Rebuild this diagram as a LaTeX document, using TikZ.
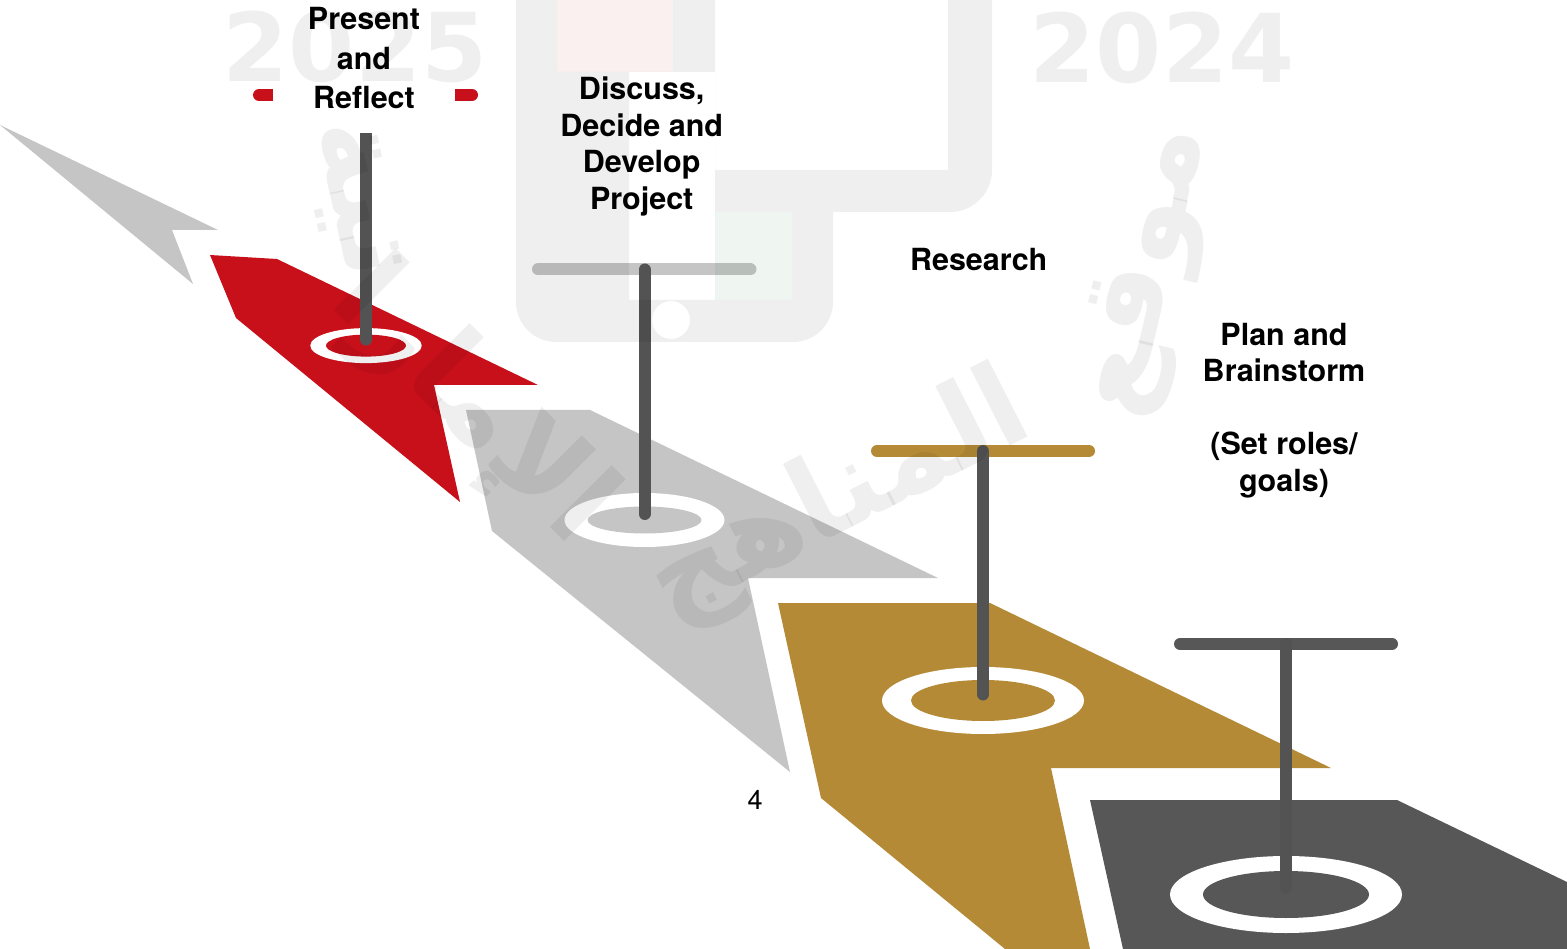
\documentclass[tikz,border=0pt]{standalone}
\usepackage{fontspec}
\setmainfont{TeX Gyre Heros}
\newfontfamily\arabicfont[Script=Arabic]{DejaVu Sans}
\newfontfamily\wmfont{DejaVu Sans}
\TeXXeTstate=1
\definecolor{redC}{RGB}{200,16,26}
\definecolor{lgrayC}{RGB}{197,197,197}
\definecolor{goldC}{RGB}{181,138,54}
\definecolor{dgrayC}{RGB}{87,87,87}
\definecolor{poleC}{RGB}{83,83,83}
\definecolor{uaeGreen}{RGB}{0,115,47}
\tikzset{
  pole/.style={draw=poleC, line width=12pt, line cap=round},
  tbar/.style={line width=12pt, line cap=round},
  lbl/.style={font=\bfseries\fontsize{30.5}{36.5}\selectfont, align=center, anchor=north, inner sep=0pt, text=black},
  wmshade/.style={fill=black, fill opacity=0.063},
  wmtext/.style={text=black, text opacity=0.063, inner sep=0pt},
  wmarab/.style={wmtext, font=\arabicfont\bfseries\fontsize{115}{115}\selectfont},
}
\begin{document}
\begin{tikzpicture}[x=1pt,y=-1pt]
\useasboundingbox (0,0) rectangle (1567,949);
\fill[white] (0,0) rectangle (1567,949);

% ---- floor shapes
\fill[lgrayC] (0,125) -- (218,230) -- (172,230) -- (193,284) -- cycle;
\fill[redC] (210,255) -- (277,259) -- (538,385) -- (434,385) -- (460,502) -- (236,318) -- cycle;
\fill[lgrayC] (466,410) -- (590,410) -- (938,578) -- (748,578) -- (790,772) -- (492,531) -- cycle;
\fill[goldC] (778,603) -- (990,603) -- (1331,768) -- (1051,768) -- (1090,949) -- (1005,949) -- (821,798) -- cycle;
\fill[dgrayC] (1090,800) -- (1397,800) -- (1567,882) -- (1567,949) -- (1123,949) -- cycle;

% ---- rings
\coordinate (r1) at (366,345.6);
\coordinate (r2) at (644.5,520);
\coordinate (r3) at (983,700.5);
\coordinate (r4) at (1286,894.5);
\fill[white] (r1) ellipse [x radius=55.7, y radius=17.5];
\fill[redC] (r1) ellipse [x radius=40, y radius=11];
\fill[white] (r2) ellipse [x radius=80, y radius=27];
\fill[lgrayC] (r2) ellipse [x radius=57, y radius=13.5];
\fill[white] (r3) ellipse [x radius=101, y radius=33.5];
\fill[goldC] (r3) ellipse [x radius=72, y radius=20.5];
\fill[white] (r4) ellipse [x radius=116, y radius=38.5];
\fill[dgrayC] (r4) ellipse [x radius=83, y radius=23.5];

% ---- bars and poles
\coordinate (b1l) at (259,95);   \coordinate (b1r) at (472,95);
\coordinate (b2l) at (538,269.5); \coordinate (b2r) at (750.5,269.5);
\coordinate (b3l) at (877,451);  \coordinate (b3r) at (1089,451);
\coordinate (b4l) at (1180,644); \coordinate (b4r) at (1392,644);
\coordinate (p1t) at (366,133);  \coordinate (p1b) at (366,339.6);
\coordinate (p2t) at (644.5,269.5); \coordinate (p2b) at (644.5,514);
\coordinate (p3t) at (983,451);  \coordinate (p3b) at (983,694.5);
\coordinate (p4t) at (1286,644); \coordinate (p4b) at (1286,888);

\draw[tbar, draw=redC] (b1l) -- (b1r);
\draw[pole, line cap=butt] (p1t) -- (p1b);
\fill[poleC] (p1b) circle [radius=6];
\draw[tbar, draw=lgrayC] (b2l) -- (b2r);
\draw[pole] (p2t) -- (p2b);
\draw[tbar, draw=goldC] (b3l) -- (b3r);
\draw[pole] (p3t) -- (p3b);
\draw[tbar, draw=dgrayC] (b4l) -- (b4r);
\draw[pole] (p4t) -- (p4b);

% ---- labels
\node[lbl, font=\bfseries\fontsize{30.5}{39.5}\selectfont, fill=white, minimum width=182pt, inner ysep=2pt] (l1) at (364,5.5) {Present\\and\\Reflect};
\node[lbl] (l2) at (641.7,76.7) {Discuss,\\Decide and\\Develop\\Project};
\node[lbl] (l3) at (978.7,248.4) {Research};
\node[lbl] (l4) at (1284,322.8) {Plan and\\Brainstorm\\\mbox{}\\(Set roles/\\goals)};
\node[anchor=base, inner sep=0pt, font=\fontsize{27}{30}\selectfont] (pg) at (755,809.3) {4};

% ---- watermark (faint, on top)
\path[wmshade, even odd rule, rounded corners=0pt]
  (516,-60) -- (992,-60) [rounded corners=42pt] -- (992,212) [sharp corners] -- (833,212)
  [rounded corners=40pt] -- (833,342) -- (516,342) [sharp corners] -- (516,-60) -- cycle
  (557,-60) rectangle (673,72)
  (629,72) rectangle (715,300)
  (715,-60) rectangle (948,170)
  (715,212) rectangle (792,300)
  (671,320) circle [radius=19];
\fill[redC, fill opacity=0.063] (557,0) rectangle (673,72);
\fill[uaeGreen, fill opacity=0.063] (715,212) rectangle (792,300);
\node[wmtext, font=\wmfont\bfseries\fontsize{95}{95}\selectfont] (y25) at (355,46.5) {2025};
\node[wmtext, font=\wmfont\bfseries\fontsize{95}{95}\selectfont] (y24) at (1162,47.5) {2024};
\node[wmarab, rotate=76.7] (w1) at (1148,272) {\beginR موقع\endR};
\node[wmarab, rotate=27] (w2) at (840,500) {\beginR المناهج\endR};
\node[wmarab, rotate=-45] (w3a) at (470,405) {\beginR الإمارا\endR};
\node[wmarab, rotate=-78] (w3b) at (352,200) {\beginR تية\endR};
\end{tikzpicture}
\end{document}
